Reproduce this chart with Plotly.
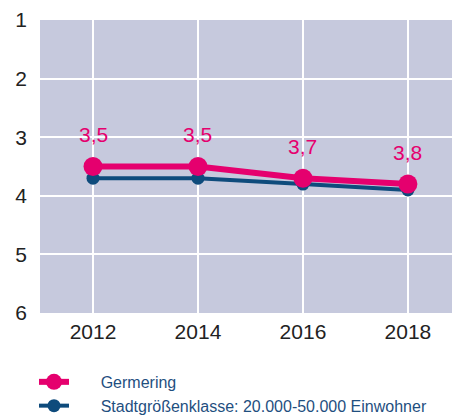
import plotly.graph_objects as go

years = [2012, 2014, 2016, 2018]
germering = [3.5, 3.5, 3.7, 3.8]
stadtklasse = [3.7, 3.7, 3.8, 3.9]
series_names = ["Germering", "Stadtgrößenklasse: 20.000-50.000 Einwohner"]
y_ticks = [1, 2, 3, 4, 5, 6]

PINK = "#E5006E"
BLUE = "#0E4B7C"
PAD = "\u00a0" * 6

fig = go.Figure()
fig.add_trace(go.Scatter(
    x=years, y=stadtklasse, name=PAD + series_names[1], mode="lines+markers",
    legendgroup="b",
    line=dict(color=BLUE, width=4), marker=dict(color=BLUE, size=13),
))
fig.add_trace(go.Scatter(
    x=years, y=germering, name=PAD + series_names[0], mode="lines+markers",
    legendgroup="a",
    line=dict(color=PINK, width=6), marker=dict(color=PINK, size=19),
))

for x, v in zip(years, germering):
    fig.add_annotation(x=x, y=v, text=f"{v:.1f}".replace(".", ","), showarrow=False,
                       yshift=32, font=dict(color=PINK, size=21,
                                            family="Liberation Sans, Arial, sans-serif"))

fig.update_layout(
    width=452, height=419,
    margin=dict(l=40, r=0, t=20, b=106, autoexpand=False),
    paper_bgcolor="white", plot_bgcolor="#C6C9DD",
    font=dict(family="Liberation Sans, Arial, sans-serif", color="#222222"),
    showlegend=True,
    legend=dict(
        traceorder="reversed", xref="container", yref="container",
        x=0.0752, xanchor="left", y=0.129, yanchor="top",
        font=dict(size=16, color="#1F4F7F"), bgcolor="rgba(0,0,0,0)",
        tracegroupgap=3,
    ),
    xaxis=dict(
        range=[2010.99, 2018.84], tickvals=years, ticktext=[str(y) for y in years],
        showgrid=True, gridcolor="white", gridwidth=1.5, zeroline=False,
        tickfont=dict(size=21, color="#222222"), ticklabelstandoff=4, showline=False,
    ),
    yaxis=dict(
        range=[6, 1], tickvals=y_ticks, ticktext=[str(t) for t in y_ticks],
        showgrid=True, gridcolor="white", gridwidth=1.5, zeroline=False,
        tickfont=dict(size=21, color="#222222"), ticklabelstandoff=12, showline=False,
    ),
)

fig.write_html("out.html",
               config={"displayModeBar": False},
               post_script="document.body.style.margin='0';document.body.style.overflow='hidden';")
